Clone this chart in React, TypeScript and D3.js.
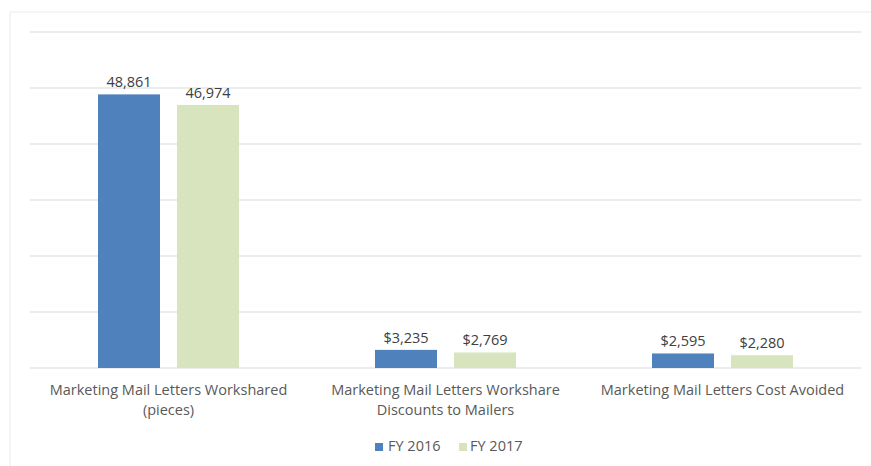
import React from "react";
import * as d3 from "d3";

const categories = [
  ["Marketing Mail Letters Workshared", "(pieces)"],
  ["Marketing Mail Letters Workshare", "Discounts to Mailers"],
  ["Marketing Mail Letters Cost Avoided"],
];
const seriesNames = ["FY 2016", "FY 2017"];
const fy2016 = [48861, 3235, 2595];
const fy2017 = [46974, 2769, 2280];
const valueLabels2016 = ["48,861", "$3,235", "$2,595"];
const valueLabels2017 = ["46,974", "$2,769", "$2,280"];
const gridTicks = [0, 10000, 20000, 30000, 40000, 50000, 60000];
const colors = ["#4F81BD", "#D7E4BD"];

const W = 871;
const H = 466;
const FONT = "'Open Sans', 'Noto Sans', sans-serif";
const FS = 14.5;

export default function App() {
  const left = 30, right = 861, top = 32, bottom = 368;
  const y = d3.scaleLinear().domain([0, 60000]).range([bottom, top]);
  const x0 = d3.scaleBand<number>().domain([0, 1, 2]).range([left, right]).padding(0);
  const bw = x0.bandwidth();
  const barW = 62, gap = 17;
  const groupW = barW * 2 + gap;
  const x1 = d3
    .scaleBand<number>()
    .domain([0, 1])
    .range([(bw - groupW) / 2, (bw + groupW) / 2])
    .paddingInner(gap / (barW + gap))
    .paddingOuter(0);
  const series = [fy2016, fy2017];
  const labels = [valueLabels2016, valueLabels2017];

  return (
    <svg width={W} height={H} style={{ position: "absolute", left: 0, top: 0, background: "#fff" }}>
      <line x1={10} x2={W} y1={12} y2={12} stroke="#ebebeb" />
      <line x1={10} x2={10} y1={12} y2={H} stroke="#ebebeb" />
      {gridTicks.map((t) => (
        <line key={t} x1={left} x2={right} y1={y(t)} y2={y(t)} stroke="#d9d9d9" strokeWidth={1} />
      ))}
      {series.map((vals, si) =>
        vals.map((v, ci) => {
          const bx = (x0(ci) as number) + (x1(si) as number);
          const w = x1.bandwidth();
          return (
            <g key={`${si}-${ci}`}>
              <rect x={bx} y={y(v)} width={w} height={y(0) - y(v)} fill={colors[si]} />
              <text x={bx + w / 2} y={y(v) - 7} textAnchor="middle" fontFamily={FONT} fontSize={FS} fill="#404040">
                {labels[si][ci]}
              </text>
            </g>
          );
        })
      )}
      {categories.map((lines, ci) => (
        <text key={ci} textAnchor="middle" fontFamily={FONT} fontSize={FS} fill="#595959">
          {lines.map((l, li) => (
            <tspan key={li} x={(x0(ci) as number) + bw / 2} y={395 + li * 20}>
              {l}
            </tspan>
          ))}
        </text>
      ))}
      <g fontFamily={FONT} fontSize={FS} fill="#595959">
        <rect x={375} y={443} width={8} height={8} fill={colors[0]} />
        <text x={388} y={451}>{seriesNames[0]}</text>
        <rect x={459} y={443} width={8} height={8} fill={colors[1]} />
        <text x={470} y={451}>{seriesNames[1]}</text>
      </g>
    </svg>
  );
}
